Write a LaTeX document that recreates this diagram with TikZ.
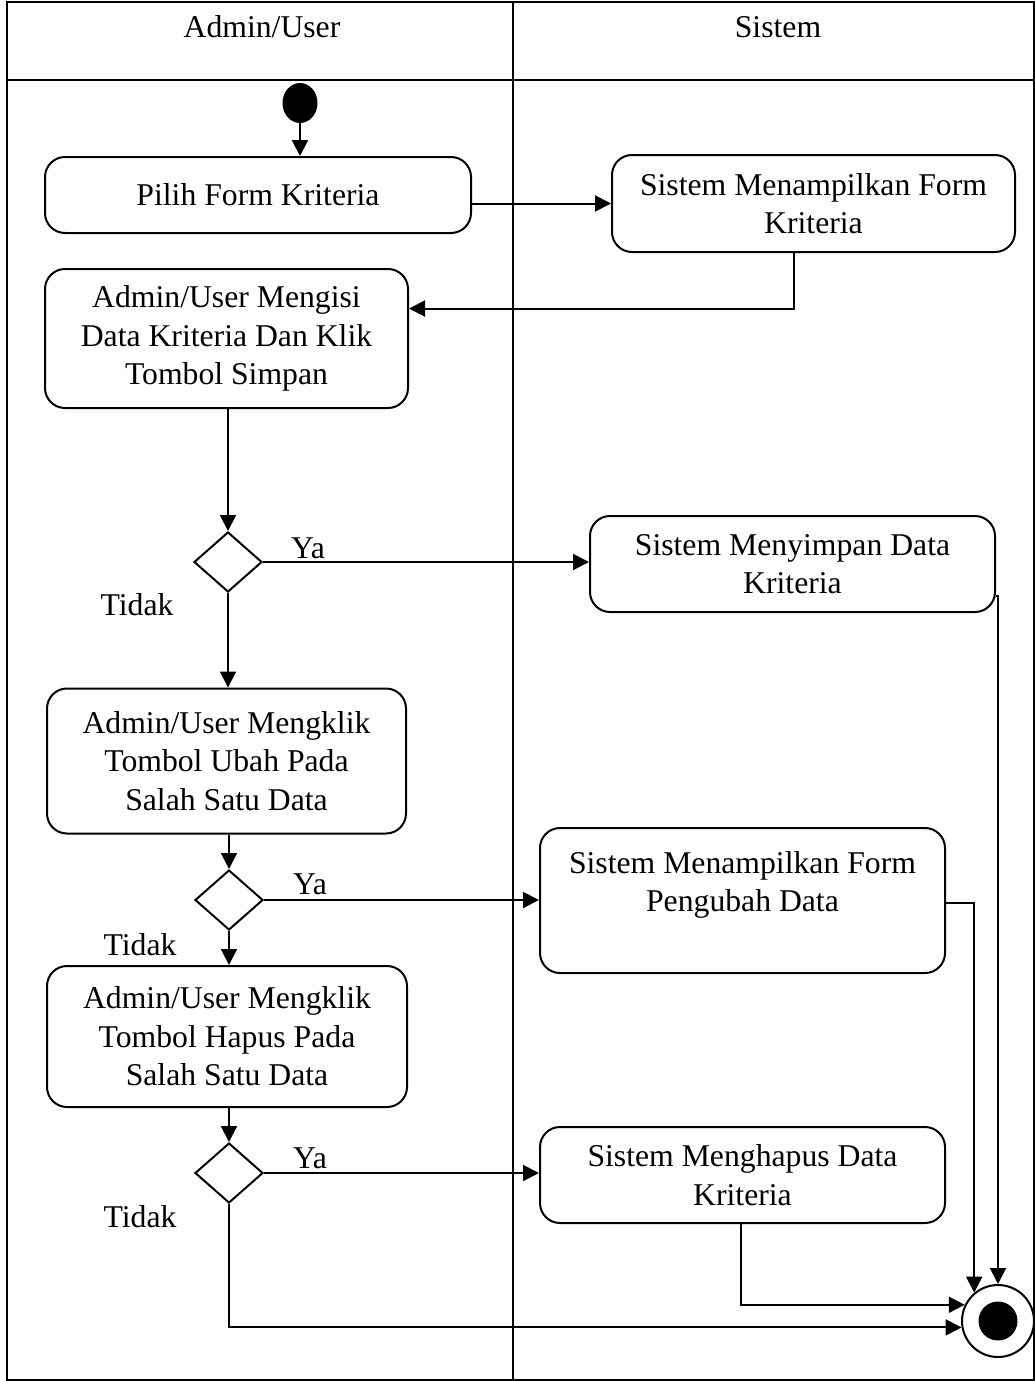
\documentclass[tikz,border=0pt]{standalone}
\usepackage{fontspec}
\setmainfont{Liberation Serif}
\usetikzlibrary{shapes.geometric,arrows.meta}
\begin{document}
\begin{tikzpicture}[x=1pt,y=-1pt,
  every node/.style={font=\fontsize{31.7}{38.5}\selectfont},
  lw/.style={line width=2pt},
  act/.style={lw,draw,rounded corners=20pt,align=center,inner sep=0pt},
  dec/.style={lw,draw,diamond,inner sep=0pt,minimum width=68pt,minimum height=60pt},
  flow/.style={lw,-{Triangle[length=16pt,width=16pt]}},
  lbl/.style={inner sep=0pt}
]
\useasboundingbox (0,0) rectangle (1035,1381);
% swimlanes
\draw[lw] (7,2) rectangle (1034,1380);
\draw[lw] (7,80) -- (1034,80);
\draw[lw] (513,2) -- (513,1380);
\node[lbl] (h1) at (262,27) {Admin/User};
\node[lbl] (h2) at (778,27) {Sistem};

% start
\node[fill,ellipse,minimum width=35pt,minimum height=40pt,inner sep=0pt] (S) at (300,103) {};

% activities
\node[act,minimum width=426pt,minimum height=76pt] (A) at (258,195) {Pilih Form Kriteria};
\node[act,minimum width=403pt,minimum height=97pt] (B) at (813.5,203.5) {Sistem Menampilkan Form\\Kriteria};
\node[act,minimum width=363pt,minimum height=139pt] (C) at (226.5,338.5) {Admin/User Mengisi\\Data Kriteria Dan Klik\\Tombol Simpan};
\node[dec] (D1) at (228,562) {};
\node[act,minimum width=405pt,minimum height=96pt] (E) at (792.5,564) {Sistem Menyimpan Data\\Kriteria};
\node[act,minimum width=359pt,minimum height=145pt] (F) at (226.5,761) {Admin/User Mengklik\\Tombol Ubah Pada\\Salah Satu Data};
\node[dec] (D2) at (229,900) {};
\node[act,minimum width=405pt,minimum height=145pt] (G) at (742.5,900.5) {Sistem Menampilkan Form\\Pengubah Data\\\mbox{}};
\node[act,minimum width=360pt,minimum height=141pt] (H) at (227,1036.5) {Admin/User Mengklik\\Tombol Hapus Pada\\Salah Satu Data};
\node[dec] (D3) at (229,1173) {};
\node[act,minimum width=405pt,minimum height=96pt] (I) at (742.5,1175) {Sistem Menghapus Data\\Kriteria};

% end
\node[lw,draw,circle,minimum size=72pt,inner sep=0pt] (End) at (998,1321) {};
\fill (End.center) circle (19.5pt);

% labels
\node[lbl] (y1) at (308,548) {Ya};
\node[lbl] (y2) at (310,884) {Ya};
\node[lbl] (y3) at (310,1158) {Ya};
\node[lbl] (t1) at (137,605) {Tidak};
\node[lbl] (t2) at (140,945) {Tidak};
\node[lbl] (t3) at (140,1217) {Tidak};

% flows
\draw[flow] (S.south) -- (S.south |- A.north);
\draw[flow] (A.east |- B.west) -- (B.west);
\draw[flow] ([xshift=-20pt]B.south) |- ([yshift=30pt]C.east);
\draw[flow] (D1.north |- C.south) -- (D1.north);
\draw[flow] (D1.east) -- (D1.east -| E.west);
\draw[flow] (D1.south) -- (D1.south |- F.north);
\draw[flow] (D2.north |- F.south) -- (D2.north);
\draw[flow] (D2.east) -- (D2.east -| G.west);
\draw[flow] (D2.south) -- (D2.south |- H.north);
\draw[flow] (D3.north |- H.south) -- (D3.north);
\draw[flow] (D3.east) -- (D3.east -| I.west);
\draw[flow] ([yshift=-32pt]E.east) -| (End.north);
\draw[flow] ([yshift=-2pt]G.east) -| (End.130);
\draw[flow] ([xshift=-2pt]I.south) |- (End.154);
\draw[flow] (D3.south) |- (End.190);
\end{tikzpicture}
\end{document}
